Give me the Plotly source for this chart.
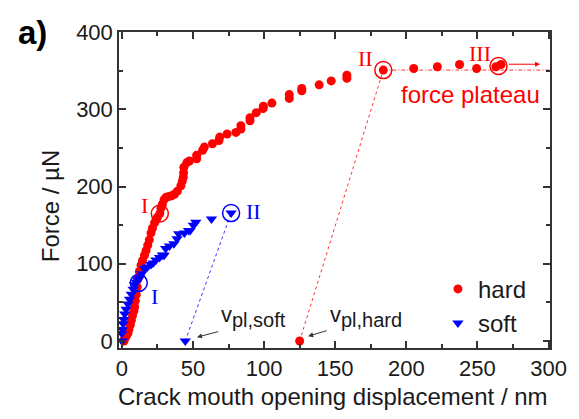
import plotly.graph_objects as go

# ---------------- data ----------------
hard_x = [1.5, 2, 3, 4.3, 5, 6, 6.7, 7.5, 8.5, 9, 9.5, 10.2, 10.8, 11.3, 12.3, 13.5, 14.5, 15.9, 17, 18.2, 19.3, 20.5, 21.5, 23, 24, 25, 26.7,
          27.5, 28.5, 29.7, 31, 33, 35, 37, 39, 41.5, 42.5, 43.2, 43.4, 43.6, 45.7, 47.5, 52.6, 52.6, 56.8, 58, 63.7, 68.3, 68.8,
          74, 80.2, 83.7, 83.7, 90.1, 90.1, 94.5, 99.3, 99.5, 105.5, 117.7, 117.7, 126.5, 126.5, 138.7, 147.2, 158.2, 158.2,
          183.8, 205.2, 221.8, 237.4, 249.4, 263, 266.6]
hard_y = [0, 3, 6, 10, 15, 21, 27, 33, 39, 44, 52, 60, 70, 80, 90, 98, 104, 111, 117, 124, 131, 140, 146, 153, 157, 160, 165,
          172, 177, 183, 186, 187, 188, 190, 194, 201, 207, 212, 218, 225, 231, 233, 236, 240.5, 247, 251, 255.4, 259.6, 264,
          268, 270, 274.5, 278.6, 285, 289, 295.6, 301, 304, 308, 314, 319, 324, 327, 331.6, 336.7, 340, 344,
          350.7, 352.8, 355, 358, 352.8, 355, 358]

soft_x = [0.2, 0, 0.5, 0.9, 1.3, 2, 3, 4.3, 5.5, 6.7, 8, 9, 10.2, 11.3, 12.4, 14, 15.9, 18, 20.5, 22, 24, 26.5, 28.5, 29.7,
          30.8, 33.5, 36.6, 38.8, 40, 44, 46.9, 48, 50.3, 52, 63, 76.8]
soft_y = [0, 9.8, 15, 22.5, 28, 35, 41, 48, 54, 60.6, 67, 73, 76, 79, 81.7, 87, 94, 96, 99, 101, 105, 108, 111.4, 111,
          119.8, 123, 126, 132.5, 139, 140, 143, 143, 150, 153.7, 158, 165.6]

# plastic displacement points at zero force
vpl_soft_x = [44.6]
vpl_soft_y = [0]
vpl_hard_x = [125]
vpl_hard_y = [0]

# marked points (circles I, II, III)
hard_marks_x = [26.7, 183.8, 264.8]
hard_marks_y = [165, 350.7, 356]
soft_marks_x = [11.9, 76.8]
soft_marks_y = [75.3, 165.6]

# unloading lines
hard_unload_x = [125, 183.8]
hard_unload_y = [0, 350.7]
soft_unload_x = [44.6, 76.8]
soft_unload_y = [0, 165.6]
plateau_x = [183.8, 301]
plateau_y = [350.7, 350.7]

x_ticks = [0, 50, 100, 150, 200, 250, 300]
y_ticks = [0, 100, 200, 300, 400]

RED = "#ff0000"
BLUE = "#0000ff"
INK = "#1a1a1a"
SANS = "Liberation Sans, Arial, sans-serif"
SERIF = "Liberation Serif, Times New Roman, serif"

fig = go.Figure()

# unloading / plateau guide lines
fig.add_trace(go.Scatter(x=hard_unload_x, y=hard_unload_y, mode="lines",
                         line=dict(color=RED, width=0.8, dash="dot"), showlegend=False, hoverinfo="skip"))
fig.add_trace(go.Scatter(x=soft_unload_x, y=soft_unload_y, mode="lines",
                         line=dict(color=BLUE, width=0.8, dash="dot"), showlegend=False, hoverinfo="skip"))
fig.add_trace(go.Scatter(x=plateau_x, y=plateau_y, mode="lines",
                         line=dict(color=RED, width=0.8, dash="4px,2px,1px,2px"), showlegend=False, hoverinfo="skip"))

# main series
fig.add_trace(go.Scatter(x=hard_x, y=hard_y, mode="markers", name="hard",
                         marker=dict(symbol="circle", size=9, color=RED)))
fig.add_trace(go.Scatter(x=soft_x, y=soft_y, mode="markers", name="soft",
                         marker=dict(symbol="triangle-down", size=10, color=BLUE)))
fig.add_trace(go.Scatter(x=vpl_hard_x, y=vpl_hard_y, mode="markers", showlegend=False,
                         marker=dict(symbol="circle", size=9, color=RED)))
fig.add_trace(go.Scatter(x=vpl_soft_x, y=vpl_soft_y, mode="markers", showlegend=False,
                         marker=dict(symbol="triangle-down", size=10, color=BLUE)))

# ring markers
fig.add_trace(go.Scatter(x=hard_marks_x, y=hard_marks_y, mode="markers", showlegend=False,
                         marker=dict(symbol="circle-open", size=17, color=RED, line=dict(width=1.5, color=RED))))
fig.add_trace(go.Scatter(x=soft_marks_x, y=soft_marks_y, mode="markers", showlegend=False,
                         marker=dict(symbol="circle-open", size=17, color=BLUE, line=dict(width=1.5, color=BLUE))))

ann = []
def label(x, y, text, color, size, family, **kw):
    ann.append(dict(x=x, y=y, xref="x", yref="y", text=text, showarrow=False,
                    font=dict(color=color, size=size, family=family), **kw))

label(16, 176, "I", RED, 22, SERIF)
label(171, 366, "II", RED, 22, SERIF)
label(251.5, 372, "III", RED, 22, SERIF)
label(245, 319.5, "force plateau", RED, 24, SANS)
label(23, 58, "I", BLUE, 22, SERIF)
label(92.5, 168, "II", BLUE, 22, SERIF)
label(68, 11, "v<sub><span style='font-size:20px'>pl,soft</span></sub>", INK, 22, SANS,
      xanchor="left", yanchor="bottom")
label(145, 11, "v<sub><span style='font-size:20px'>pl,hard</span></sub>", INK, 22, SANS,
      xanchor="left", yanchor="bottom")

# arrows
def arrow(x0, y0, x1, y1, color, width):
    ann.append(dict(x=x1, y=y1, ax=x0, ay=y0, xref="x", yref="y", axref="x", ayref="y",
                    text="", showarrow=True, arrowhead=2, arrowsize=1, arrowwidth=width,
                    arrowcolor=color))

arrow(68.8, 12.7, 52.8, 5, "#333333", 1)
arrow(145, 14, 131, 6.3, "#333333", 1)
arrow(271, 358.3, 294, 358.3, RED, 1)

# titles and panel label
ann.append(dict(x=-0.159, y=0.45, xref="paper", yref="paper", text="Force / µN", textangle=-90,
                xanchor="center", yanchor="middle",
                showarrow=False, font=dict(size=24, color=INK, family=SANS)))
ann.append(dict(x=0.497, y=-0.155, xref="paper", yref="paper", text="Crack mouth opening displacement / nm",
                xanchor="center", yanchor="middle",
                showarrow=False, font=dict(size=24, color=INK, family=SANS)))
ann.append(dict(x=-0.2, y=1.0, xref="paper", yref="paper", text="<b>a)</b>", showarrow=False,
                xanchor="center", yanchor="middle",
                font=dict(size=33, color="#000000", family=SANS)))

axis_common = dict(showline=True, linecolor="#333333", linewidth=1.5, mirror="allticks",
                   ticks="inside", ticklen=7, tickwidth=1.5, tickcolor="#333333",
                   showgrid=False, zeroline=False,
                   tickfont=dict(size=22, color=INK, family=SANS))

# the page body adds an 8px offset, so the figure is 8px smaller than the window
fig.update_layout(
    width=571, height=411,
    margin=dict(l=111, r=21, t=18, b=71),
    paper_bgcolor="white", plot_bgcolor="white",
    xaxis=dict(range=[-2, 301], tickvals=x_ticks, ticktext=[str(v) for v in x_ticks],
               minor=dict(ticks="inside", ticklen=4, tickwidth=1.5, tickcolor="#333333", dtick=25, tick0=0),
               **axis_common),
    yaxis=dict(range=[-9, 400], tickvals=y_ticks, ticktext=[str(v) for v in y_ticks],
               minor=dict(ticks="inside", ticklen=4, tickwidth=1.5, tickcolor="#333333", dtick=50, tick0=0),
               **axis_common),
    legend=dict(x=0.74, y=0.257, xanchor="left", yanchor="top", bgcolor="rgba(0,0,0,0)",
                font=dict(size=24, color=INK, family=SANS), itemwidth=30, tracegroupgap=0),
    annotations=ann,
    showlegend=True,
)

fig.write_html("out.html")
